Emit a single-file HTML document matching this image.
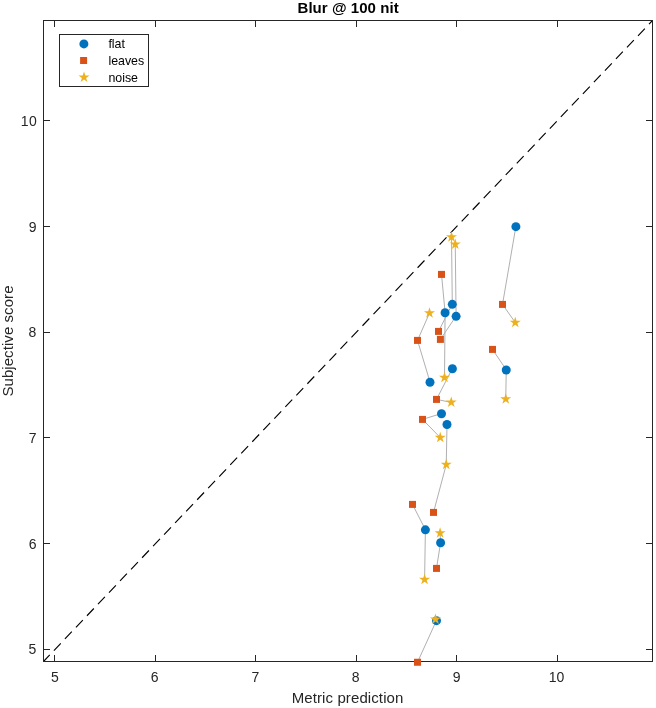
<!DOCTYPE html>
<html><head><meta charset="utf-8"><title>Blur @ 100 nit</title>
<style>html,body{margin:0;padding:0;background:#fff;}svg{display:block;will-change:transform;opacity:0.999;}text{font-family:"Liberation Sans",sans-serif;fill:#262626;}</style></head><body>
<svg width="656" height="708" viewBox="0 0 656 708">
<rect x="0" y="0" width="656" height="708" fill="#fff"/>
<g fill="none" stroke="#b0b0b0" stroke-width="1">
<polyline points="515.90,226.40 502.50,304.40 515.25,322.50"/>
<polyline points="429.50,313.10 417.50,340.40 430.00,382.00"/>
<polyline points="451.50,237.15 452.30,304.10 438.50,331.40"/>
<polyline points="455.25,244.35 456.10,316.10 440.40,339.40"/>
<polyline points="441.50,274.40 445.10,312.50 444.50,377.50"/>
<polyline points="452.40,368.50 436.50,399.40 451.25,402.40"/>
<polyline points="441.50,413.50 422.50,419.40 440.25,437.55"/>
<polyline points="447.00,424.25 446.25,464.60 433.50,512.40"/>
<polyline points="412.50,504.40 425.40,529.60 424.60,579.50"/>
<polyline points="440.10,533.15 440.60,542.50 436.50,568.40"/>
<polyline points="492.50,349.40 506.25,369.75 505.75,399.00"/>
<polyline points="435.50,619.30 436.50,620.40 417.50,662.25"/>
</g>
<line x1="43.5" y1="661.5" x2="652.5" y2="20.5" stroke="#000" stroke-width="1.15" stroke-dasharray="10 6" stroke-dashoffset="0.9"/>
<g stroke="#262626" stroke-width="1" fill="none" shape-rendering="crispEdges">
<rect x="43.5" y="20.5" width="609.0" height="641.0"/>
<line x1="54.5" y1="661.5" x2="54.5" y2="655.0"/>
<line x1="54.5" y1="20.5" x2="54.5" y2="27.0"/>
<line x1="155.5" y1="661.5" x2="155.5" y2="655.0"/>
<line x1="155.5" y1="20.5" x2="155.5" y2="27.0"/>
<line x1="255.5" y1="661.5" x2="255.5" y2="655.0"/>
<line x1="255.5" y1="20.5" x2="255.5" y2="27.0"/>
<line x1="356.5" y1="661.5" x2="356.5" y2="655.0"/>
<line x1="356.5" y1="20.5" x2="356.5" y2="27.0"/>
<line x1="456.5" y1="661.5" x2="456.5" y2="655.0"/>
<line x1="456.5" y1="20.5" x2="456.5" y2="27.0"/>
<line x1="557.5" y1="661.5" x2="557.5" y2="655.0"/>
<line x1="557.5" y1="20.5" x2="557.5" y2="27.0"/>
<line x1="43.5" y1="120.5" x2="50.0" y2="120.5"/>
<line x1="652.5" y1="120.5" x2="646.0" y2="120.5"/>
<line x1="43.5" y1="226.5" x2="50.0" y2="226.5"/>
<line x1="652.5" y1="226.5" x2="646.0" y2="226.5"/>
<line x1="43.5" y1="332.5" x2="50.0" y2="332.5"/>
<line x1="652.5" y1="332.5" x2="646.0" y2="332.5"/>
<line x1="43.5" y1="437.5" x2="50.0" y2="437.5"/>
<line x1="652.5" y1="437.5" x2="646.0" y2="437.5"/>
<line x1="43.5" y1="543.5" x2="50.0" y2="543.5"/>
<line x1="652.5" y1="543.5" x2="646.0" y2="543.5"/>
<line x1="43.5" y1="649.5" x2="50.0" y2="649.5"/>
<line x1="652.5" y1="649.5" x2="646.0" y2="649.5"/>
</g>
<circle cx="515.90" cy="226.65" r="4.50" fill="#0072BD"/>
<circle cx="430.00" cy="382.25" r="4.50" fill="#0072BD"/>
<circle cx="452.30" cy="304.35" r="4.50" fill="#0072BD"/>
<circle cx="456.10" cy="316.35" r="4.50" fill="#0072BD"/>
<circle cx="445.10" cy="312.75" r="4.50" fill="#0072BD"/>
<circle cx="452.40" cy="368.75" r="4.50" fill="#0072BD"/>
<circle cx="441.50" cy="413.75" r="4.50" fill="#0072BD"/>
<circle cx="447.00" cy="424.50" r="4.50" fill="#0072BD"/>
<circle cx="425.40" cy="529.85" r="4.50" fill="#0072BD"/>
<circle cx="440.60" cy="542.75" r="4.50" fill="#0072BD"/>
<circle cx="506.25" cy="370.00" r="4.50" fill="#0072BD"/>
<circle cx="436.50" cy="620.65" r="4.50" fill="#0072BD"/>
<rect x="499.00" y="300.90" width="7.00" height="7.00" fill="#D95319"/>
<rect x="414.00" y="336.90" width="7.00" height="7.00" fill="#D95319"/>
<rect x="435.00" y="327.90" width="7.00" height="7.00" fill="#D95319"/>
<rect x="436.90" y="335.90" width="7.00" height="7.00" fill="#D95319"/>
<rect x="438.00" y="270.90" width="7.00" height="7.00" fill="#D95319"/>
<rect x="433.00" y="395.90" width="7.00" height="7.00" fill="#D95319"/>
<rect x="419.00" y="415.90" width="7.00" height="7.00" fill="#D95319"/>
<rect x="430.00" y="508.90" width="7.00" height="7.00" fill="#D95319"/>
<rect x="409.00" y="500.90" width="7.00" height="7.00" fill="#D95319"/>
<rect x="433.00" y="564.90" width="7.00" height="7.00" fill="#D95319"/>
<rect x="489.00" y="345.90" width="7.00" height="7.00" fill="#D95319"/>
<rect x="414.00" y="658.75" width="7.00" height="7.00" fill="#D95319"/>
<polygon points="515.25,316.70 516.55,320.71 520.77,320.71 517.36,323.18 518.66,327.19 515.25,324.72 511.84,327.19 513.14,323.18 509.73,320.71 513.95,320.71" fill="#EDB120"/>
<polygon points="429.50,307.30 430.80,311.31 435.02,311.31 431.61,313.78 432.91,317.79 429.50,315.32 426.09,317.79 427.39,313.78 423.98,311.31 428.20,311.31" fill="#EDB120"/>
<polygon points="451.50,231.35 452.80,235.36 457.02,235.36 453.61,237.83 454.91,241.84 451.50,239.37 448.09,241.84 449.39,237.83 445.98,235.36 450.20,235.36" fill="#EDB120"/>
<polygon points="455.25,238.55 456.55,242.56 460.77,242.56 457.36,245.03 458.66,249.04 455.25,246.57 451.84,249.04 453.14,245.03 449.73,242.56 453.95,242.56" fill="#EDB120"/>
<polygon points="444.50,371.70 445.80,375.71 450.02,375.71 446.61,378.18 447.91,382.19 444.50,379.72 441.09,382.19 442.39,378.18 438.98,375.71 443.20,375.71" fill="#EDB120"/>
<polygon points="451.25,396.60 452.55,400.61 456.77,400.61 453.36,403.08 454.66,407.09 451.25,404.62 447.84,407.09 449.14,403.08 445.73,400.61 449.95,400.61" fill="#EDB120"/>
<polygon points="440.25,431.75 441.55,435.76 445.77,435.76 442.36,438.23 443.66,442.24 440.25,439.77 436.84,442.24 438.14,438.23 434.73,435.76 438.95,435.76" fill="#EDB120"/>
<polygon points="446.25,458.80 447.55,462.81 451.77,462.81 448.36,465.28 449.66,469.29 446.25,466.82 442.84,469.29 444.14,465.28 440.73,462.81 444.95,462.81" fill="#EDB120"/>
<polygon points="424.60,573.70 425.90,577.71 430.12,577.71 426.71,580.18 428.01,584.19 424.60,581.72 421.19,584.19 422.49,580.18 419.08,577.71 423.30,577.71" fill="#EDB120"/>
<polygon points="440.10,527.35 441.40,531.36 445.62,531.36 442.21,533.83 443.51,537.84 440.10,535.37 436.69,537.84 437.99,533.83 434.58,531.36 438.80,531.36" fill="#EDB120"/>
<polygon points="505.75,393.20 507.05,397.21 511.27,397.21 507.86,399.68 509.16,403.69 505.75,401.22 502.34,403.69 503.64,399.68 500.23,397.21 504.45,397.21" fill="#EDB120"/>
<polygon points="435.50,613.50 436.80,617.51 441.02,617.51 437.61,619.98 438.91,623.99 435.50,621.52 432.09,623.99 433.39,619.98 429.98,617.51 434.20,617.51" fill="#EDB120"/>
<g font-size="14px">
<text x="54.8" y="682.0" text-anchor="middle">5</text>
<text x="154.7" y="682.0" text-anchor="middle">6</text>
<text x="255.4" y="682.0" text-anchor="middle">7</text>
<text x="355.6" y="682.0" text-anchor="middle">8</text>
<text x="456.6" y="682.0" text-anchor="middle">9</text>
<text x="548.7 556.6" y="682.0">10</text>
<text x="20.8 28.9" y="125.90">10</text>
<text x="36.50" y="231.90" text-anchor="end">9</text>
<text x="36.40" y="337.10" text-anchor="end">8</text>
<text x="36.50" y="442.90" text-anchor="end">7</text>
<text x="36.50" y="548.90" text-anchor="end">6</text>
<text x="36.40" y="654.10" text-anchor="end">5</text>
</g>
<text x="347.6" y="703.3" font-size="15px" letter-spacing="0.1" text-anchor="middle">Metric prediction</text>
<text transform="translate(13,341) rotate(-90)" font-size="15px" letter-spacing="0.07" text-anchor="middle">Subjective score</text>
<text x="348.1" y="13" font-size="15px" letter-spacing="0.05" font-weight="bold" fill="#000" style="fill:#000" text-anchor="middle">Blur @ 100 nit</text>
<rect x="59.5" y="34.5" width="89" height="52" fill="#fff" stroke="#262626" stroke-width="1" shape-rendering="crispEdges"/>
<circle cx="83.9" cy="43.9" r="4.50" fill="#0072BD"/>
<rect x="80.10" y="57.00" width="7" height="7" fill="#D95319"/>
<polygon points="84.00,71.50 85.30,75.51 89.52,75.51 86.11,77.98 87.41,81.99 84.00,79.52 80.59,81.99 81.89,77.98 78.48,75.51 82.70,75.51" fill="#EDB120"/>
<g font-size="12.4px" style="fill:#000"><text x="108.4" y="48.35" style="fill:#000">flat</text><text x="108.4" y="64.85" style="fill:#000">leaves</text><text x="108.4" y="81.55" style="fill:#000">noise</text></g>
</svg></body></html>
